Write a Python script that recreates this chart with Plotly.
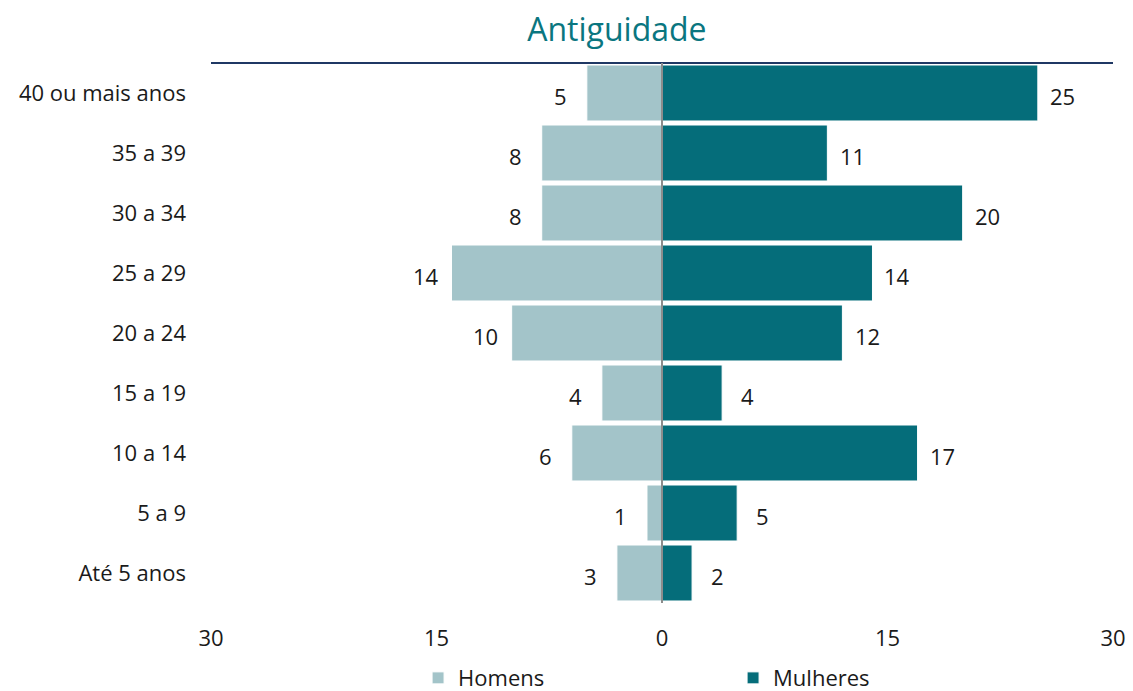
import plotly.graph_objects as go

# faixas de antiguidade (de baixo para cima)
faixas = ["Até 5 anos", "5 a 9", "10 a 14", "15 a 19", "20 a 24",
          "25 a 29", "30 a 34", "35 a 39", "40 ou mais anos"]
homens = [3, 1, 6, 4, 10, 14, 8, 8, 5]
mulheres = [2, 5, 17, 4, 12, 14, 20, 11, 25]

tick_vals = [-30, -15, 0, 15, 30]
tick_text = ["30", "15", "0", "15", "30"]

COR_H = "#a3c4c9"
COR_M = "#056d7a"
FONTE = "'Open Sans', 'Noto Sans', sans-serif"

fig = go.Figure()
fig.add_trace(go.Bar(
    y=faixas,
    x=[-v for v in homens],
    orientation="h",
    name="Homens",
    marker=dict(color=COR_H, line=dict(color="white", width=1)),
    hoverinfo="skip",
))
fig.add_trace(go.Bar(
    y=faixas,
    x=mulheres,
    orientation="h",
    name="Mulheres",
    marker=dict(color=COR_M, line=dict(color="white", width=1)),
    hoverinfo="skip",
))

# rótulos fora das barras
for f, h, m in zip(faixas, homens, mulheres):
    fig.add_annotation(x=-h, y=f, text=str(h), showarrow=False,
                       xanchor="center", xshift=-26, yshift=-3,
                       font=dict(size=22, color="#1a1a1a", family=FONTE))
    fig.add_annotation(x=m, y=f, text=str(m), showarrow=False,
                       xanchor="center", xshift=25, yshift=-3,
                       font=dict(size=22, color="#1a1a1a", family=FONTE))

# linha superior escura e eixo central cinza
fig.add_shape(type="line", xref="paper", yref="paper", x0=0, x1=1, y0=1, y1=1,
              line=dict(color="#1f3864", width=2))
fig.add_shape(type="line", xref="x", yref="paper", x0=0, x1=0, y0=0, y1=1,
              line=dict(color="#8c8c8c", width=2), layer="above")

fig.update_layout(
    width=1133,
    height=691,
    barmode="relative",
    bargap=0.067,
    plot_bgcolor="white",
    paper_bgcolor="white",
    font=dict(family=FONTE, size=22, color="#1a1a1a"),
    title=dict(text="Antiguidade", x=0.45, xref="paper", xanchor="center",
               y=0.957, yanchor="middle",
               font=dict(size=32, color="#0a7680", family=FONTE)),
    margin=dict(l=211, r=20, t=63, b=88, autoexpand=False),
    xaxis=dict(
        range=[-30, 30],
        tickvals=tick_vals,
        ticktext=tick_text,
        showgrid=False,
        zeroline=False,
        showline=False,
        ticks="",
        ticklabelstandoff=20,
        tickfont=dict(size=22),
        automargin=False,
    ),
    yaxis=dict(
        categoryorder="array",
        categoryarray=faixas,
        showgrid=False,
        showline=False,
        ticks="",
        ticklabelstandoff=24,
        tickfont=dict(size=22),
        automargin=False,
    ),
    legend=dict(
        orientation="h",
        x=0.369,
        xref="container",
        xanchor="left",
        y=-0.139,
        yref="paper",
        yanchor="middle",
        entrywidth=270,
        font=dict(size=22),
        bgcolor="rgba(0,0,0,0)",
        traceorder="normal",
    ),
    showlegend=True,
)

fig.write_html("out.html", config={"displayModeBar": False},
               post_script="document.body.style.margin='0';")
